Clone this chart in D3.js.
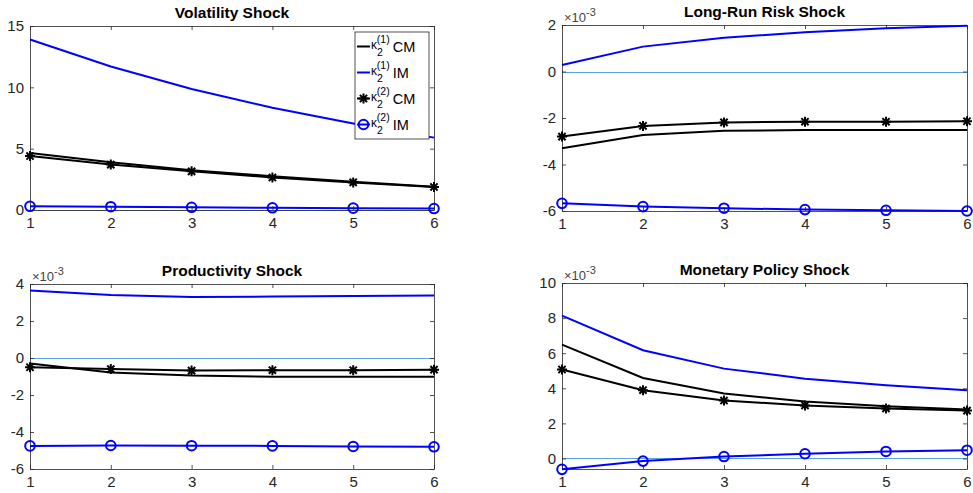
<!DOCTYPE html>
<html>
<head>
<meta charset="utf-8">
<script src="https://cdn.jsdelivr.net/npm/d3@7"></script>
<style>
  body { margin: 0; background: #fff; }
  svg { display: block; font-family: "Liberation Sans", Arial, Helvetica, sans-serif; }
</style>
</head>
<body>
<svg width="973" height="493"></svg>
<script>
// horizon
const steps = [1, 2, 3, 4, 5, 6];

// Volatility shock
const volK1CM = [4.65, 3.9, 3.25, 2.75, 2.3, 1.9];
const volK1IM = [13.9, 11.7, 9.87, 8.33, 7.06, 5.9];
const volK2CM = [4.4, 3.7, 3.15, 2.65, 2.25, 1.88];
const volK2IM = [0.3, 0.27, 0.22, 0.18, 0.15, 0.12];

// Long-run risk shock (x 1e-3)
const lrrK1CM = [-3.3, -2.73, -2.55, -2.52, -2.52, -2.52];
const lrrK1IM = [0.28, 1.07, 1.45, 1.69, 1.86, 1.97];
const lrrK2CM = [-2.8, -2.34, -2.19, -2.16, -2.16, -2.14];
const lrrK2IM = [-5.67, -5.81, -5.88, -5.94, -5.97, -6.0];

// Productivity shock (x 1e-3)
const prodK1CM = [-0.3, -0.78, -0.95, -1.02, -1.02, -1.02];
const prodK1IM = [3.65, 3.4, 3.3, 3.32, 3.35, 3.38];
const prodK2CM = [-0.5, -0.6, -0.68, -0.66, -0.66, -0.63];
const prodK2IM = [-4.75, -4.73, -4.74, -4.75, -4.78, -4.8];

// Monetary policy shock (x 1e-3)
const monK1CM = [6.49, 4.59, 3.7, 3.24, 2.98, 2.79];
const monK1IM = [8.14, 6.17, 5.12, 4.55, 4.17, 3.89];
const monK2CM = [5.07, 3.89, 3.3, 3.02, 2.85, 2.73];
const monK2IM = [-0.62, -0.15, 0.11, 0.27, 0.4, 0.47];

// tick values
const volTicks = [0, 5, 10, 15];
const lrrTicks = [-6, -4, -2, 0, 2];
const prodTicks = [-6, -4, -2, 0, 2, 4];
const monTicks = [0, 2, 4, 6, 8, 10];

const svg = d3.select("svg");
const axisColor = "#262626";
const starPath = "M-5,0H5M0,-5V5M-3.6,-3.6L3.6,3.6M-3.6,3.6L3.6,-3.6";
const plainNum = d => String(d);   // matlab style hyphen minus

function seriesOf(k1cm, k1im, k2cm, k2im) {
    return [
        { values: k1cm, color: "#000", marker: null },
        { values: k1im, color: "#0000ff", marker: null },
        { values: k2cm, color: "#000", marker: "star" },
        { values: k2im, color: "#0000ff", marker: "circle" }
    ];
}

const panels = [
    { title: "Volatility Shock", left: 30, right: 434, top: 26, bottom: 210,
      yDomain: [0, 15], ticks: volTicks, exp: false,
      series: seriesOf(volK1CM, volK1IM, volK2CM, volK2IM) },
    { title: "Long-Run Risk Shock", left: 562, right: 967, top: 25, bottom: 211,
      yDomain: [-6, 2], ticks: lrrTicks, exp: true,
      series: seriesOf(lrrK1CM, lrrK1IM, lrrK2CM, lrrK2IM) },
    { title: "Productivity Shock", left: 30, right: 434, top: 284, bottom: 469,
      yDomain: [-6, 4], ticks: prodTicks, exp: true,
      series: seriesOf(prodK1CM, prodK1IM, prodK2CM, prodK2IM) },
    { title: "Monetary Policy Shock", left: 562, right: 967, top: 283, bottom: 469,
      yDomain: [-0.6, 10], ticks: monTicks, exp: true,
      series: seriesOf(monK1CM, monK1IM, monK2CM, monK2IM) }
];

function drawMarker(sel, type, color) {
    if (type === "circle") {
        sel.append("circle").attr("r", 4.8)
            .attr("fill", "none").attr("stroke", color).attr("stroke-width", 2);
    } else if (type === "star") {
        sel.append("path").attr("d", starPath)
            .attr("fill", "none").attr("stroke", color).attr("stroke-width", 2);
    }
}

panels.forEach(function(p) {
    const x = d3.scaleLinear().domain([1, 6]).range([p.left, p.right]);
    const y = d3.scaleLinear().domain(p.yDomain).range([p.bottom, p.top]);
    const g = svg.append("g");

    // zero line
    const y0 = Math.round(y(0)) + 0.5;
    g.append("line")
        .attr("x1", x(1)).attr("x2", x(6))
        .attr("y1", y0).attr("y2", y0)
        .attr("stroke", "#5aa2e0").attr("stroke-width", 1);

    // axes (inward ticks, mirrored)
    const styleAxis = function(a) {
        a.selectAll("path, line").attr("stroke", axisColor).attr("stroke-width", 0.8);
        a.selectAll("text").attr("fill", axisColor).attr("font-size", 15)
            .attr("font-family", "'Liberation Sans', Arial, sans-serif");
    };
    g.append("g").attr("transform", `translate(0,${p.bottom})`)
        .call(d3.axisBottom(x).tickValues(steps).tickFormat(plainNum)
            .tickSizeInner(-4).tickSizeOuter(0).tickPadding(7))
        .call(styleAxis);
    g.append("g").attr("transform", `translate(0,${p.top})`)
        .call(d3.axisTop(x).tickValues(steps).tickFormat("")
            .tickSizeInner(-4).tickSizeOuter(0))
        .call(styleAxis);
    g.append("g").attr("transform", `translate(${p.left},0)`)
        .call(d3.axisLeft(y).tickValues(p.ticks).tickFormat(plainNum)
            .tickSizeInner(-4).tickSizeOuter(0).tickPadding(6))
        .call(styleAxis);
    g.append("g").attr("transform", `translate(${p.right},0)`)
        .call(d3.axisRight(y).tickValues(p.ticks).tickFormat("")
            .tickSizeInner(-4).tickSizeOuter(0))
        .call(styleAxis);

    // series
    const line = d3.line().x((d, i) => x(steps[i])).y(d => y(d));
    p.series.forEach(function(s) {
        g.append("path").datum(s.values)
            .attr("d", line)
            .attr("fill", "none").attr("stroke", s.color).attr("stroke-width", 2);
        if (s.marker) {
            g.selectAll(null).data(s.values).join("g")
                .attr("transform", (d, i) => `translate(${x(steps[i])},${y(d)})`)
                .each(function() { drawMarker(d3.select(this), s.marker, s.color); });
        }
    });

    // title
    svg.append("text")
        .attr("x", (p.left + p.right) / 2).attr("y", p.top - 8)
        .attr("text-anchor", "middle")
        .attr("font-weight", "bold").attr("font-size", 15.5).attr("fill", "#000")
        .text(p.title);

    // exponent label
    if (p.exp) {
        const t = svg.append("text")
            .attr("x", p.left + 2).attr("y", p.top - 3)
            .attr("font-size", 13).attr("fill", "#444");
        t.append("tspan").text("\u00d710");
        t.append("tspan").attr("dy", -6).attr("font-size", 11).text("-3");
    }
});

// legend in the first panel
const legendItems = [
    { sup: "(1)", label: "CM", color: "#000", marker: null },
    { sup: "(1)", label: "IM", color: "#0000ff", marker: null },
    { sup: "(2)", label: "CM", color: "#000", marker: "star" },
    { sup: "(2)", label: "IM", color: "#0000ff", marker: "circle" }
];
const leg = svg.append("g");
leg.append("rect")
    .attr("x", 355).attr("y", 32).attr("width", 74).attr("height", 107)
    .attr("fill", "#fff").attr("stroke", axisColor).attr("stroke-width", 0.8);
legendItems.forEach(function(it, i) {
    const cy = 46.5 + i * 26;
    leg.append("line")
        .attr("x1", 357).attr("x2", 370).attr("y1", cy).attr("y2", cy)
        .attr("stroke", it.color).attr("stroke-width", 2);
    if (it.marker) {
        const m = leg.append("g").attr("transform", `translate(363.5,${cy})`);
        drawMarker(m, it.marker, it.color);
    }
    const t = leg.append("text")
        .attr("x", 371).attr("y", cy + 2).attr("fill", "#000");
    t.append("tspan").attr("font-size", 12).text("\u03ba");
    t.append("tspan").attr("font-size", 10.5).attr("dy", 7).text("2");
    t.append("tspan").attr("font-size", 10.5).attr("dx", -6).attr("dy", -13).text(it.sup);
    t.append("tspan").attr("font-size", 14.5).attr("dx", 3).attr("dy", 9).text(it.label);
});
</script>
</body>
</html>
